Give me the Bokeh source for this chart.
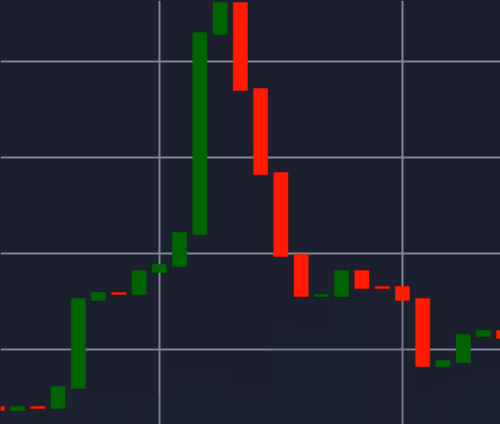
from bokeh.plotting import figure
from bokeh.models import Range1d, FixedTicker, ColumnDataSource
from bokeh.embed import file_html
from bokeh.resources import INLINE

# ---- data ----
idx = list(range(26))
opens = [94.06, 93.65, 94.06, 93.85, 95.94, 105.10, 105.94, 105.73, 108.02, 108.65,
         111.98, 132.81, 136.15, 127.19, 118.44, 109.90, 105.52, 105.52, 108.23, 106.56,
         106.56, 105.31, 98.23, 98.65, 101.35, 101.98]
closes = [93.65, 94.06, 93.85, 96.15, 105.31, 105.94, 105.73, 108.23, 108.85, 112.19,
          133.02, 136.15, 126.98, 118.23, 109.69, 105.52, 105.73, 108.23, 106.35, 106.35,
          105.10, 98.23, 98.85, 101.56, 101.98, 101.15]
volumes = [4.5, 4.5, 4.5, 4.5, 9, 7, 7, 7, 7, 13,
           13, 13, 9, 9, 24, 22, 22, 29, 29, 29,
           29, 6, 8, 10, 13, 13]
price_ticks = [100, 110, 120, 130]
time_ticks = [8, 20]

BG = "#1b1f2e"
UP = "#006400"
DOWN = "#ff1a00"

colors = [UP if c >= o else DOWN for o, c in zip(opens, closes)]
top = [max(o, c) for o, c in zip(opens, closes)]
bot = [min(o, c) for o, c in zip(opens, closes)]
src = ColumnDataSource(dict(x=idx, top=top, bottom=bot, color=colors, vol=volumes))

p = figure(width=500, height=424, output_backend="svg", toolbar_location=None,
           x_range=Range1d(0.161, 24.84), y_range=Range1d(92.1875, 136.354),
           x_axis_location=None, y_axis_location=None, min_border=0,
           background_fill_color=BG, border_fill_color=BG, outline_line_color=None)
p.extra_y_ranges = {"vol": Range1d(0, 100)}

p.xgrid.ticker = FixedTicker(ticks=time_ticks)
p.ygrid.ticker = FixedTicker(ticks=price_ticks)
p.grid.grid_line_color = "#80859a"
p.grid.grid_line_width = 2

p.vbar(x="x", top="vol", bottom=0, width=1.0, source=src, y_range_name="vol",
       fill_color="#2a2e3a", fill_alpha=0.12, line_color=None)
p.vbar(x="x", top="top", bottom="bottom", width=0.7, source=src,
       fill_color="color", line_color="color", line_width=0.5)

template = """
{% block postamble %}
<style>html, body { margin: 0; padding: 0; background: #1b1f2e; }</style>
{% endblock %}
"""
open("out.html", "w").write(file_html(p, INLINE, template=template))
